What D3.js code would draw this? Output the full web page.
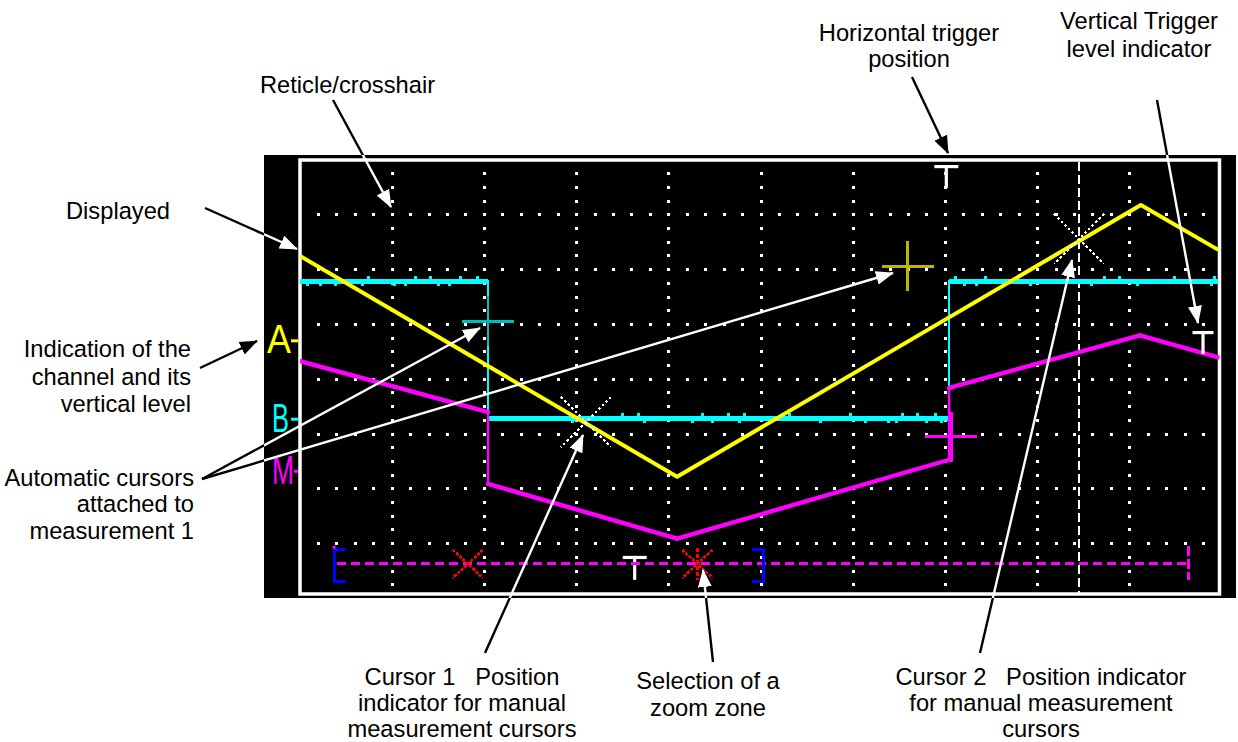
<!DOCTYPE html>
<html><head><meta charset="utf-8">
<script src="https://cdn.jsdelivr.net/npm/d3@7"></script>
<style>html,body{margin:0;padding:0;background:#fff;overflow:hidden}svg{display:block}</style>
</head><body>
<svg id="c" width="1238" height="742"></svg>
<script>
// ===== DATA (time in screen divisions 0..10, level in divisions -4..4) =====
const traceA = [[0,2.25],[4.09,-1.78],[9.12,3.18],[9.96,2.36]];
const traceB = [[0,1.79],[2.04,1.79],[2.04,-0.71],[7.04,-0.71],[7.04,1.79],[9.96,1.79]];
const traceM = [[0,0.33],[2.04,-0.60],[2.04,-1.91],[4.09,-2.91],[7.04,-1.47],[7.04,-0.16],[9.11,0.80],[9.96,0.40]];
// small noise glitches on trace B: [time, level, direction(+1 above / -1 below)]
const glitchB = [
  [0.08,1.79,-1],[0.22,1.79,-1],[0.38,1.79,-1],[0.68,1.79,-1],[0.74,1.79,1],[1.03,1.79,-1],[1.14,1.79,-1],
  [1.25,1.79,1],[1.41,1.79,1],[1.50,1.79,-1],[1.62,1.79,-1],[1.74,1.79,1],[1.92,1.79,1],
  [2.96,-0.71,-1],[3.50,-0.71,1],[3.67,-0.71,1],[3.74,-0.71,-1],[4.26,-0.71,-1],[4.37,-0.71,1],
  [4.47,-0.71,-1],[4.65,-0.71,1],[4.77,-0.71,-1],[4.82,-0.71,1],[5.10,-0.71,-1],[5.31,-0.71,1],
  [5.64,-0.71,-1],[5.97,-0.71,1],[6.13,-0.71,-1],[6.38,-0.71,-1],[6.47,-0.71,-1],[6.54,-0.71,1],
  [6.70,-0.71,1],[6.79,-0.71,-1],[6.89,-0.71,1],[6.96,-0.71,-1],
  [7.11,1.79,1],[7.21,1.79,-1],[7.34,1.79,-1],[7.43,1.79,1],[7.92,1.79,-1],[8.59,1.79,-1],
  [8.73,1.79,1],[8.89,1.79,1],[9.08,1.79,-1],[9.49,1.79,1],[9.89,1.79,-1],[9.92,1.79,1]
];
const channelNames  = ["A","B","M"];
const channelLevels = [0.70,-0.73,-1.68];
const autoCursors   = [[3.10,-0.78],[8.45,2.56]];          // white X markers
const manualCrosses = [[2.04,1.06],[6.59,2.06],[7.06,-1.05]]; // + markers
const cursorLineTime = 8.45;
const triggerTime = 7.01;
const triggerLevel = 0.88;
const zoomLevel = -3.37;
const zoomStart = 0.40, zoomEnd = 9.64;
const zoomBrackets = [0.37, 5.03];
const zoomMarks = [1.82, 4.31];   // red X, red asterisk
const zoomT = 3.63;

// ===== LAYOUT =====
const svg = d3.select("#c");
const x = d3.scaleLinear().domain([0,10]).range([300,1222]);
const y = d3.scaleLinear().domain([4,-4]).range([160,598.4]);
const FONT = "'Liberation Sans', Arial, sans-serif";
const YEL="#ffff00", CYA="#00ffff", MAG="#ff00ff", TEAL="#00bdbd", OLIVE="#c0b400";

const defs = svg.append("defs");
defs.append("clipPath").attr("id","scr").append("rect").attr("x",264).attr("y",155).attr("width",972).attr("height",443);
defs.append("clipPath").attr("id","out").append("path")
  .attr("d","M0,0H1238V742H0Z M264,155V598H1236V155Z").attr("clip-rule","evenodd");
defs.append("clipPath").attr("id","plot").append("rect").attr("x",300).attr("y",160).attr("width",919.5).attr("height",434);
["#000","#fff"].forEach((c,i)=>{
  defs.append("marker").attr("id","ah"+i).attr("markerUnits","userSpaceOnUse")
    .attr("viewBox","0 -8 18 16").attr("refX",17).attr("refY",0)
    .attr("markerWidth",18).attr("markerHeight",16).attr("orient","auto")
    .append("path").attr("d","M0,-7L18,0L0,7Z").attr("fill",c);
});

// screen
svg.append("rect").attr("x",264).attr("y",155).attr("width",972).attr("height",443).attr("fill","#000");
svg.append("rect").attr("x",300).attr("y",160).attr("width",919.5).attr("height",434)
  .attr("fill","none").attr("stroke","#fff").attr("stroke-width",3.5);

// dotted graticule
const g = svg.append("g").attr("clip-path","url(#plot)").attr("shape-rendering","crispEdges");
const dots = [];
d3.range(1,10).forEach(t=>{ d3.range(1,32).forEach(k=>dots.push([t,4-k*0.25])); });
d3.range(-3,4).forEach(v=>{ d3.range(1,50).forEach(k=>{ const t=k*0.2; if(Math.abs(t-Math.round(t))>1e-6) dots.push([t,v]); }); });
g.selectAll("rect.dot").data(dots).join("rect").attr("class","dot")
  .attr("x",d=>Math.round(x(d[0])-1.5)).attr("y",d=>Math.round(y(d[1])-1.5)).attr("width",3).attr("height",3).attr("fill","#fff");

// cursor 2 dashed vertical line
g.append("line").attr("x1",x(cursorLineTime)).attr("x2",x(cursorLineTime)).attr("y1",162).attr("y2",594)
  .attr("stroke","#fff").attr("stroke-width",2.5).attr("stroke-dasharray","9,4");

const line = d3.line().x(d=>x(d[0])).y(d=>y(d[1]));
const tg = svg.append("g").attr("clip-path","url(#plot)");

// trace B (cyan): thin verticals, thicker levels
tg.append("path").attr("d",line(traceB)).attr("fill","none").attr("stroke",CYA).attr("stroke-width",2.2).attr("shape-rendering","crispEdges");
for(let i=0;i<traceB.length-1;i++){
  const a=traceB[i], b=traceB[i+1];
  if(a[1]===b[1]) tg.append("line").attr("x1",x(a[0])).attr("x2",x(b[0])).attr("y1",y(a[1])).attr("y2",y(b[1]))
     .attr("stroke",CYA).attr("stroke-width",5).attr("shape-rendering","crispEdges");
}
tg.selectAll("rect.gl").data(glitchB).join("rect").attr("class","gl")
  .attr("x",d=>x(d[0])-1.5).attr("y",d=>d[2]>0? y(d[1])-5 : y(d[1])+2.5)
  .attr("width",3).attr("height",2.5).attr("fill",CYA).attr("shape-rendering","crispEdges");

// trace A (yellow)
tg.append("path").attr("d",line(traceA)).attr("fill","none").attr("stroke",YEL).attr("stroke-width",4)
  .attr("stroke-linejoin","round");
// trace M (magenta): thick slopes, thin vertical jumps
tg.append("path").attr("d",line(traceM)).attr("fill","none").attr("stroke",MAG).attr("stroke-width",2.4)
  .attr("stroke-linejoin","round");
for(let i=0;i<traceM.length-1;i++){
  const a=traceM[i], b=traceM[i+1];
  if(a[0]!==b[0]) tg.append("line").attr("x1",x(a[0])).attr("x2",x(b[0])).attr("y1",y(a[1])).attr("y2",y(b[1]))
     .attr("stroke",MAG).attr("stroke-width",4.4).attr("stroke-linecap","round");
}

// manual crosses (+)
const crossCols=[TEAL,OLIVE,MAG];
manualCrosses.forEach((d,i)=>{
  const cx=x(d[0]), cy=y(d[1]);
  tg.append("line").attr("x1",cx-26).attr("x2",cx+26).attr("y1",cy).attr("y2",cy).attr("stroke",crossCols[i]).attr("stroke-width",3).attr("shape-rendering","crispEdges");
  tg.append("line").attr("x1",cx).attr("x2",cx).attr("y1",cy-25).attr("y2",cy+25).attr("stroke",crossCols[i]).attr("stroke-width",i===2?4.5:2.5).attr("shape-rendering","crispEdges");
});

// automatic cursors (white dotted X)
autoCursors.forEach(d=>{
  const cx=x(d[0]), cy=y(d[1]);
  [[-1,-1],[1,-1]].forEach(s=>{
    tg.append("line").attr("x1",cx+s[0]*25).attr("y1",cy+s[1]*25).attr("x2",cx-s[0]*25).attr("y2",cy-s[1]*25)
      .attr("stroke","#fff").attr("stroke-width",2.4).attr("stroke-dasharray","2.5,2.5").attr("shape-rendering","crispEdges");
  });
});

// T markers
function drawT(cx,top,bw,h){
  tg.append("rect").attr("x",cx-bw/2).attr("y",top).attr("width",bw).attr("height",3.2).attr("fill","#fff");
  tg.append("rect").attr("x",cx-1.6).attr("y",top).attr("width",3.2).attr("height",h).attr("fill","#fff");
}
drawT(x(triggerTime),165,24,23);
drawT(1203,y(triggerLevel),21,23);
drawT(x(zoomT),y(zoomLevel)-8,24,24);

// zoom zone
const zy=y(zoomLevel);
tg.append("line").attr("x1",x(zoomStart)).attr("x2",x(zoomEnd)).attr("y1",zy).attr("y2",zy)
  .attr("stroke",MAG).attr("stroke-width",3).attr("stroke-dasharray","9,5").attr("shape-rendering","crispEdges");
tg.append("line").attr("x1",x(zoomEnd)).attr("x2",x(zoomEnd)).attr("y1",zy-18).attr("y2",zy+16)
  .attr("stroke",MAG).attr("stroke-width",3.2).attr("stroke-dasharray","10,3").attr("shape-rendering","crispEdges");
zoomBrackets.forEach((t,i)=>{
  const bx=x(t), dir=i===0?1:-1;
  tg.append("path").attr("d",`M${bx+dir*12},${zy-14.5}H${bx}V${zy+17.5}H${bx+dir*12}`)
    .attr("fill","none").attr("stroke","#0000ff").attr("stroke-width",3).attr("shape-rendering","crispEdges");
});
tg.append("rect").attr("x",x(zoomBrackets[0])-1.5).attr("y",zy-18).attr("width",3).attr("height",3).attr("fill",MAG);
zoomMarks.forEach((t,i)=>{
  const cx=x(t);
  [[-1,-1],[1,-1]].forEach(s=>{
    tg.append("line").attr("x1",cx+s[0]*15).attr("y1",zy+s[1]*14).attr("x2",cx-s[0]*15).attr("y2",zy-s[1]*14)
      .attr("stroke","#ff0000").attr("stroke-width",2.6).attr("stroke-dasharray","3,1.5").attr("shape-rendering","crispEdges");
  });
  if(i===1) tg.append("line").attr("x1",cx).attr("x2",cx).attr("y1",zy-16).attr("y2",zy+16)
      .attr("stroke","#ff0000").attr("stroke-width",2.6).attr("stroke-dasharray","4,2").attr("shape-rendering","crispEdges");
});

// channel labels on the left strip
const chCols=[YEL,CYA,MAG], chW=[24,17,22], chX=[267,272,272];
channelNames.forEach((n,i)=>{
  const ly=y(channelLevels[i]);
  svg.append("text").attr("x",chX[i]).attr("y",ly+12.5).attr("font-family",FONT).attr("font-size",41)
    .attr("textLength",chW[i]).attr("lengthAdjust","spacingAndGlyphs").attr("fill",chCols[i]).text(n);
  svg.append("rect").attr("x",i===2?294:291).attr("y",ly-1.5).attr("width",i===2?4:7).attr("height",3).attr("fill",chCols[i]);
});

// ===== ANNOTATIONS =====
const arrows = [
  [333,100,391,207],   // reticle
  [205,208,297,249],   // displayed
  [200,368,257,341],   // indication of channel
  [202,479,480,328],   // automatic cursor -> teal
  [202,479,893,273],   // automatic cursor -> olive
  [912,77,948,153],    // horizontal trigger
  [1157,100,1198,323], // vertical trigger
  [485,653,583,435],   // cursor 1
  [713,662,703,570],   // zoom zone
  [980,653,1072,260]   // cursor 2
];
[["out",0,"#000"],["scr",1,"#fff"]].forEach(([clip,mi,col])=>{
  const ag=svg.append("g").attr("clip-path",`url(#${clip})`);
  arrows.forEach(a=>{
    ag.append("line").attr("x1",a[0]).attr("y1",a[1]).attr("x2",a[2]).attr("y2",a[3])
      .attr("stroke",col).attr("stroke-width",2.4).attr("marker-end",`url(#ah${mi})`);
  });
});

const texts = [
  {x:347.5,y:93,a:"middle",l:["Reticle/crosshair"]},
  {x:909,y:40.5,a:"middle",l:["Horizontal trigger","position"],dy:26.5},
  {x:1139,y:29,a:"middle",l:["Vertical Trigger","level indicator"],dy:28},
  {x:66,y:218.5,a:"start",l:["Displayed"]},
  {x:191,y:357,a:"end",l:["Indication of the","channel and its","vertical level"],dy:27.5},
  {x:194,y:485.5,a:"end",l:["Automatic cursors","attached to","measurement 1"],dy:26.8},
  {x:462,y:685,a:"middle",l:["Cursor 1\u00a0\u00a0\u00a0Position","indicator for manual","measurement cursors"],dy:26.2},
  {x:708,y:689,a:"middle",l:["Selection of a","zoom zone"],dy:26.5},
  {x:1041,y:685,a:"middle",l:["Cursor 2\u00a0\u00a0\u00a0Position indicator","for manual measurement","cursors"],dy:26.2}
];
texts.forEach(t=>{
  t.l.forEach((s,i)=>{
    svg.append("text").attr("x",t.x).attr("y",t.y+i*(t.dy||0)).attr("text-anchor",t.a)
      .attr("font-family",FONT).attr("font-size",23.7).attr("fill","#000").text(s);
  });
});
</script>
</body></html>
